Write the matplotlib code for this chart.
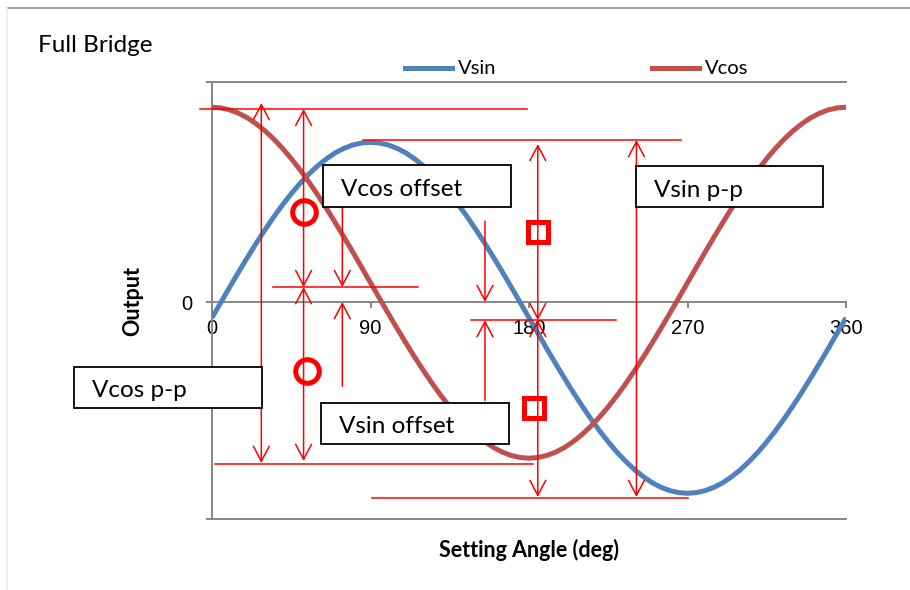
import numpy as np
import matplotlib.pyplot as plt
from matplotlib.patches import Rectangle
from matplotlib.lines import Line2D

# data (output in units of the Vsin amplitude), every 5 deg
angle = list(range(0, 361, 5))
vsin = [-0.090, -0.003, 0.084, 0.169, 0.252, 0.333, 0.410, 0.484, 0.553, 0.617,
        0.676, 0.729, 0.776, 0.816, 0.850, 0.876, 0.895, 0.906, 0.910,
        0.906, 0.895, 0.876, 0.850, 0.816, 0.776, 0.729, 0.676, 0.617,
        0.553, 0.484, 0.410, 0.333, 0.252, 0.169, 0.084, -0.003, -0.090,
        -0.177, -0.264, -0.349, -0.432, -0.513, -0.590, -0.664, -0.733, -0.797,
        -0.856, -0.909, -0.956, -0.996, -1.030, -1.056, -1.075, -1.086, -1.090,
        -1.086, -1.075, -1.056, -1.030, -0.996, -0.956, -0.909, -0.856, -0.797,
        -0.733, -0.664, -0.590, -0.513, -0.432, -0.349, -0.264, -0.177, -0.090]
vcos = [1.110, 1.106, 1.095, 1.076, 1.050, 1.016, 0.976, 0.929, 0.876, 0.817,
        0.753, 0.684, 0.610, 0.533, 0.452, 0.369, 0.284, 0.197, 0.110,
        0.023, -0.064, -0.149, -0.232, -0.313, -0.390, -0.464, -0.533, -0.597,
        -0.656, -0.709, -0.756, -0.796, -0.830, -0.856, -0.875, -0.886, -0.890,
        -0.886, -0.875, -0.856, -0.830, -0.796, -0.756, -0.709, -0.656, -0.597,
        -0.533, -0.464, -0.390, -0.313, -0.232, -0.149, -0.064, 0.023, 0.110,
        0.197, 0.284, 0.369, 0.452, 0.533, 0.610, 0.684, 0.753, 0.817,
        0.876, 0.929, 0.976, 1.016, 1.050, 1.076, 1.095, 1.106, 1.110]
x_ticks = [0, 90, 180, 270, 360]

# annotation levels (dimension lines)
vcos_top, vcos_mid, vcos_bot = 1.10, 0.085, -0.923
vsin_top, vsin_mid, vsin_bot = 0.923, -0.103, -1.117

RED = '#FF0000'
BLUE = '#4F81BD'
DRED = '#C0504D'
GRAY = '#868686'
FONT = 'Lato'

plt.rcParams['font.family'] = [FONT, 'DejaVu Sans']

fig = plt.figure(figsize=(9.1, 5.9), dpi=100)
ax = fig.add_axes([212/910, 1-519/590, 634/910, 437/590])
ax.set_xlim(0, 360)
ax.set_ylim(-1.2365, 1.2536)

ax.plot(angle, vsin, color=BLUE, lw=3.6, zorder=3, solid_capstyle='butt', solid_joinstyle='round')
ax.plot(angle, vcos, color=DRED, lw=3.6, zorder=3, solid_capstyle='butt', solid_joinstyle='round')

# axes styling (Excel look)
ax.spines['right'].set_visible(False)
ax.spines['bottom'].set_position(('data', 0))
for s in ['left', 'bottom', 'top']:
    ax.spines[s].set_color(GRAY)
    ax.spines[s].set_linewidth(1.4)
ax.axhline(ax.get_ylim()[0], color=GRAY, lw=1.4, clip_on=False, zorder=1)

ax.set_xticks(x_ticks)
ax.set_xticklabels([str(t) for t in x_ticks], family='Liberation Sans', fontsize=14.5)
ax.set_yticks([ax.get_ylim()[0], 0, ax.get_ylim()[1]])
ax.set_yticklabels(['', '0', ''], family='Liberation Sans', fontsize=14.5)
ax.tick_params(axis='x', length=4, width=1.4, color=GRAY, pad=8)
ax.tick_params(axis='y', length=4.3, width=1.4, color=GRAY, pad=10)
ax.xaxis.get_major_ticks()[0].tick1line.set_visible(False)

ax.set_xlabel('Setting Angle (deg)', fontsize=15.5, fontweight='bold')
ax.xaxis.set_label_coords(0.5, -0.045)
ax.set_ylabel('Output', fontsize=15.5, fontweight='bold')
ax.yaxis.set_label_coords(-0.108, 0.5)

fig.text(38/910, 1-45/590, 'Full Bridge', fontsize=17.5, va='center', ha='left')

# legend drawn by hand in figure pixels
for x0, lab, col in [(405, 'Vsin', BLUE), (652, 'Vcos', DRED)]:
    fig.add_artist(Line2D([x0/910, (x0+47)/910], [1-68/590]*2, color=col, lw=3.6))
    fig.text((x0+53)/910, 1-68/590, lab, fontsize=14.5, va='center', ha='left')

# figure border
fig.add_artist(Line2D([7/910, 1], [1-8/590]*2, color='#a6a6a6', lw=1.5))
fig.add_artist(Line2D([7/910]*2, [0, 1-8/590], color='#ececec', lw=1.2))

# dimension lines
hlines = [(vcos_top, -6.8, 178.9), (vcos_mid, 34.6, 117.0), (vcos_bot, 1.7, 182.3),
          (vsin_top, 85.7, 266.3), (vsin_mid, 147.1, 229.4), (vsin_bot, 90.9, 270.3)]
for y, x0, x1 in hlines:
    ax.plot([x0, x1], [y, y], color=RED, lw=1.1, zorder=4, clip_on=False)


def arrow(x, y_from, y_to, style='->'):
    ax.annotate('', xy=(x, y_to), xytext=(x, y_from),
                arrowprops=dict(arrowstyle=style + ',head_length=0.72,head_width=0.38',
                                mutation_scale=15, color=RED, lw=1.1,
                                shrinkA=0, shrinkB=0), zorder=4)


arrow(28, 1.134, -0.917, '<->')
arrow(52, vcos_top, vcos_mid, '<->')
arrow(52, vcos_mid, -0.906, '<->')
arrow(74, 0.54, vcos_mid)
arrow(74, -0.48, 0)
arrow(155, 0.46, 0)
arrow(155, -0.56, vsin_mid)
arrow(185, 0.90, vsin_mid, '<->')
arrow(185, vsin_mid, -1.111, '<->')
arrow(241, vsin_top, -1.111, '<->')

# circle / square markers
ax.plot([52, 54], [0.513, -0.393], 'o', ms=17, mfc='none', mec=RED, mew=3.6, zorder=6)
ax.plot([185, 183], [0.40, -0.604], 's', ms=15, mfc='none', mec=RED, mew=3.6, zorder=6)

# labelled boxes
boxes = [('Vcos offset', 63.0, 169.8, 0.541, 0.781),
         ('Vsin p-p', 240.8, 347.0, 0.541, 0.775),
         ('Vcos p-p', -78.4, 28.4, -0.604, -0.370),
         ('Vsin offset', 61.9, 168.7, -0.809, -0.575)]
for lab, x0, x1, y0, y1 in boxes:
    ax.add_patch(Rectangle((x0, y0), x1 - x0, y1 - y0, facecolor='white',
                           edgecolor='black', lw=1.3, zorder=7, clip_on=False))
    ax.text(x0 + 10, (y0 + y1) / 2 - 0.02, lab, fontsize=17.5, va='center',
            ha='left', zorder=8, clip_on=False)

fig.savefig('out.png', dpi=100)
